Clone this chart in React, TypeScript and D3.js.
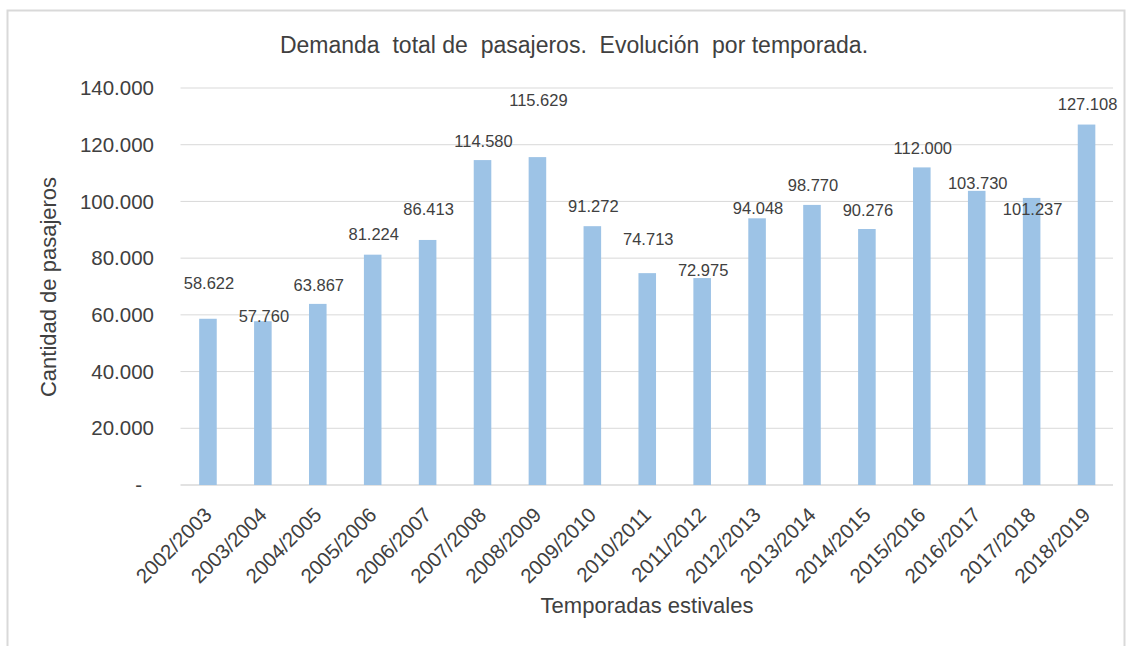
import React from "react";
import * as d3 from "d3";

const categories = [
  "2002/2003", "2003/2004", "2004/2005", "2005/2006", "2006/2007", "2007/2008",
  "2008/2009", "2009/2010", "2010/2011", "2011/2012", "2012/2013", "2013/2014",
  "2014/2015", "2015/2016", "2016/2017", "2017/2018", "2018/2019",
];
const passengers = [
  58622, 57760, 63867, 81224, 86413, 114580, 115629, 91272, 74713, 72975,
  94048, 98770, 90276, 112000, 103730, 101237, 127108,
];
const yTicks = [0, 20000, 40000, 60000, 80000, 100000, 120000, 140000];

const title = "Demanda  total de  pasajeros.  Evolución  por temporada.";
const yTitle = "Cantidad de pasajeros";
const xTitle = "Temporadas estivales";

// layout: label lift above each bar top (px), as placed in the original
const labelLift = [36, 5, 19, 20, 31, 19, 57, 20, 34, 8, 10, 20, 19, 19, 8, -11, 20];

const W = 1132;
const H = 646;
const left = 180.5;
const right = 1114;
const top = 88;
const bottom = 485;
const FONT = "'Liberation Sans', Arial, sans-serif";
const TEXT = "#404040";
const GRID = "#d9d9d9";
const BAR = "#9dc3e6";

const fmt = (v: number) => {
  if (v === 0) return "-";
  const s = String(Math.round(v));
  return s.replace(/\B(?=(\d{3})+(?!\d))/g, ".");
};

export default function App() {
  const x = d3
    .scaleBand<string>()
    .domain(categories)
    .range([left, right])
    .paddingInner(0.68)
    .paddingOuter(0.34);
  const y = d3.scaleLinear().domain([0, 140000]).range([bottom, top]);
  const bw = x.bandwidth();

  return (
    <svg
      width={W}
      height={H}
      style={{ position: "absolute", left: 0, top: 0, background: "#fff" }}
      fontFamily={FONT}
    >
      <rect x={0} y={0} width={W} height={H} fill="#fff" />
      <rect x={7.5} y={10.5} width={1117} height={700} fill="#fff" stroke={GRID} strokeWidth={2} />

      <text
        x={574}
        y={53}
        textAnchor="middle"
        fontSize={23}
        fill={TEXT}
        style={{ whiteSpace: "pre" }}
        xmlSpace="preserve"
      >
        {title}
      </text>

      {yTicks.map((t) => (
        <g key={t}>
          <line x1={left} x2={right - 1} y1={y(t)} y2={y(t)} stroke={GRID} strokeWidth={t === 0 ? 1.5 : 1} />
          <text
            x={t === 0 ? 142 : 154}
            y={y(t)}
            dy="0.35em"
            textAnchor="end"
            fontSize={20.5}
            fill={TEXT}
          >
            {fmt(t)}
          </text>
        </g>
      ))}

      {categories.map((c, i) => {
        const v = passengers[i];
        const cx = (x(c) as number) + bw / 2;
        return (
          <g key={c}>
            <rect x={x(c)} y={y(v)} width={bw} height={y(0) - y(v)} fill={BAR} />
            <text
              x={cx + 1}
              y={y(v) - labelLift[i]}
              dy="0.35em"
              textAnchor="middle"
              fontSize={16.5}
              fill={TEXT}
            >
              {fmt(v)}
            </text>
            <text
              transform={`translate(${cx},${bottom + 26}) rotate(-45)`}
              dy="0.35em"
              textAnchor="end"
              fontSize={20.5}
              fill={TEXT}
            >
              {c}
            </text>
          </g>
        );
      })}

      <text
        transform={`translate(56,287) rotate(-90)`}
        textAnchor="middle"
        fontSize={22}
        fill={TEXT}
      >
        {yTitle}
      </text>
      <text x={647} y={613} textAnchor="middle" fontSize={22} fill={TEXT}>
        {xTitle}
      </text>
    </svg>
  );
}
